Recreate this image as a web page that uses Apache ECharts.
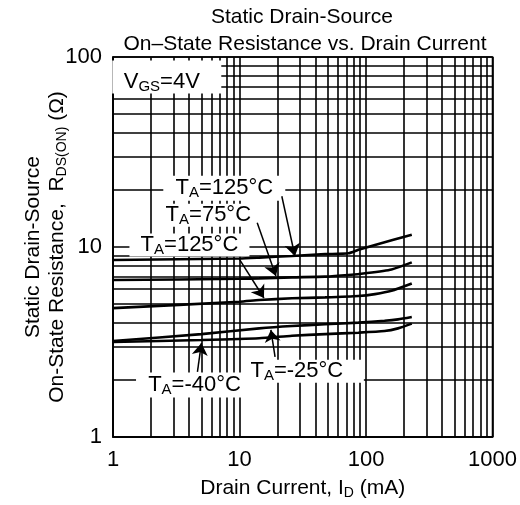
<!DOCTYPE html>
<html><head><meta charset="utf-8">
<script src="https://cdn.jsdelivr.net/npm/echarts@6/dist/echarts.min.js"></script>
<style>html,body{margin:0;padding:0;background:#fff}#c{width:520px;height:505px}</style>
</head><body><div id="c"></div>
<script>
// ---- data ----
const xMinorGrid = [2,3,4,5,6,7,8,9,20,30,40,50,60,70,80,90,200,300,400,500,600,700,800,900];
const yMinorGrid = [2,3,4,5,6,7,8,9,20,30,40,50,60,70,80,90];

const curveNames = ['TA=125°C (upper)', 'TA=75°C', 'TA=125°C', 'TA=-25°C', 'TA=-40°C'];
const xA = [1, 10, 14.3, 26, 47.5, 72.6, 87, 117.7, 230];
const yA = [8.54, 8.70, 8.79, 8.97, 9.17, 9.27, 9.66, 10.25, 11.6];
const xB = [1, 10, 14.3, 26, 47.5, 72.6, 98.4, 159, 230];
const yB = [6.70, 6.80, 6.84, 6.92, 6.98, 7.12, 7.27, 7.62, 8.3];
const xC = [1, 10, 14.3, 26, 47.5, 87, 117.7, 159, 230];
const yC = [4.77, 5.15, 5.26, 5.37, 5.43, 5.52, 5.65, 5.88, 6.42];
const xD = [1, 5, 14.3, 26, 47.5, 87, 140, 179, 230];
const yD = [3.20, 3.48, 3.73, 3.84, 3.92, 4.00, 4.09, 4.16, 4.28];
const xE = [1, 5, 14.3, 26, 47.5, 87, 140, 179, 230];
const yE = [3.16, 3.24, 3.31, 3.41, 3.48, 3.54, 3.61, 3.73, 3.95];

// annotation labels (data coordinates)
const labelTemps = ['125°C', '75°C', '125°C', '-40°C', '-25°C'];
const labelX = [7.58, 5.67, 4.02, 4.41, 28.4];
const labelY = [20.4, 14.7, 10.25, 1.88, 2.22];
// arrows (data coordinates)
const arrowFromX = [21.6, 13.8, 9.94, 4.65, 19.1];
const arrowFromY = [18.5, 13.4, 8.65, 2.20, 2.64];
const arrowToX = [27.4, 19.4, 15.6, 5.0, 17.7];
const arrowToY = [8.97, 7.04, 5.39, 3.12, 3.66];
// VGS label
const vgsX = 2.43, vgsY = 73.9;

// ---- styles ----
const FONT = "'Liberation Sans', Arial, sans-serif";
const boxSizes = [[122,25],[100,23],[120,23],[117,25],[118,23]];
const boxOffsets = [[0,0],[0,0],[0,0],[0,0],[8,0]];

const pairs = (xs, ys) => xs.map((x, i) => [x, ys[i]]);
const curves = [pairs(xA,yA), pairs(xB,yB), pairs(xC,yC), pairs(xD,yD), pairs(xE,yE)];

const richT = {
  a: {fontSize: 22, fontFamily: FONT, color: '#000', lineHeight: 25},
  s: {fontSize: 15, fontFamily: FONT, color: '#000', lineHeight: 25, padding: [10,0,0,0]}
};
const richAxis = {
  a: {fontSize: 21, fontFamily: FONT, color: '#000', lineHeight: 24},
  s: {fontSize: 14, fontFamily: FONT, color: '#000', lineHeight: 24, padding: [10,0,0,0]}
};

const chart = echarts.init(document.getElementById('c'), null, {renderer: 'canvas'});

const series = [];
// grid lines
series.push({
  type: 'line', data: [], silent: true,
  markLine: {
    silent: true, symbol: ['none','none'], z: 1, animation: false,
    label: {show: false},
    lineStyle: {color: '#000', width: 1.6, type: 'solid'},
    data: xMinorGrid.map(v => ({xAxis: v})).concat(yMinorGrid.map(v => ({yAxis: v})))
  }
});
// label boxes
series.push({
  type: 'line', data: [], silent: true,
  markPoint: {
    silent: true, z: 3, animation: false,
    data: labelTemps.map((t, i) => ({
      coord: [labelX[i], labelY[i]],
      symbol: 'rect', symbolSize: boxSizes[i], symbolOffset: boxOffsets[i],
      itemStyle: {color: '#fff'},
      label: {show: true, position: 'inside', offset: [-boxOffsets[i][0], 0],
        formatter: '{a|T}{s|A}{a|=' + t + '}', rich: richT}
    })).concat([{
      coord: [vgsX, vgsY], symbol: 'rect', symbolSize: [109, 33], symbolOffset: [5,-5],
      itemStyle: {color: '#fff'},
      label: {show: true, position: 'inside', offset: [-5, 5],
        formatter: '{a|V}{s|GS}{a|=4V}', rich: richT}
    }])
  }
});
// curves
curves.forEach((d, i) => series.push({
  name: curveNames[i], type: 'line', data: d, z: 4,
  smooth: 0.2, showSymbol: false, animation: false,
  lineStyle: {color: '#000', width: 2.6}
}));
// arrows
series.push({
  type: 'line', data: [], silent: true,
  markLine: {
    silent: true, z: 6, animation: false,
    symbol: ['none', 'arrow'], symbolSize: 12,
    label: {show: false},
    lineStyle: {color: '#000', width: 1.5, type: 'solid'},
    itemStyle: {color: '#000'},
    data: arrowFromX.map((x, i) => [
      {coord: [x, arrowFromY[i]]},
      {coord: [arrowToX[i], arrowToY[i]]}
    ])
  }
});

chart.setOption({
  animation: false,
  backgroundColor: '#fff',
  textStyle: {fontFamily: FONT},
  grid: {left: 113, top: 57, right: 25, bottom: 68, show: true, borderColor: '#000', borderWidth: 1.6, containLabel: false},
  graphic: [
    {type: 'text', x: 302, y: 7, style: {text: 'Static Drain-Source', font: '21px ' + FONT, fill: '#000', textAlign: 'center'}},
    {type: 'text', x: 305, y: 34, style: {text: 'On–State Resistance vs. Drain Current', font: '21px ' + FONT, fill: '#000', textAlign: 'center'}}
  ],
  xAxis: {
    type: 'log', logBase: 10, min: 1, max: 1000,
    axisLine: {show: true, lineStyle: {color: '#000', width: 1.6}},
    axisTick: {show: false},
    splitLine: {show: true, lineStyle: {color: '#000', width: 1.6}},
    axisLabel: {color: '#000', fontSize: 22, fontFamily: FONT, margin: 12, formatter: v => String(Math.round(v))},
    name: '{a|Drain Current, I}{s|D}{a| (mA)}',
    nameLocation: 'middle', nameGap: 39, nameMoveOverlap: false,
    nameTextStyle: {rich: richAxis}
  },
  yAxis: {
    type: 'log', logBase: 10, min: 1, max: 100,
    axisLine: {show: true, lineStyle: {color: '#000', width: 1.6}},
    axisTick: {show: false},
    splitLine: {show: true, lineStyle: {color: '#000', width: 1.6}},
    axisLabel: {color: '#000', fontSize: 22, fontFamily: FONT, margin: 11, formatter: v => String(Math.round(v))},
    name: '{a|Static Drain-Source}\n{a|On-State Resistance,  R}{s|DS(ON)}{a| (Ω)}',
    nameLocation: 'middle', nameGap: 44, nameRotate: 90, nameMoveOverlap: false,
    nameTextStyle: {align: 'center', rich: richAxis}
  },
  series: series
});
</script>
</body></html>
